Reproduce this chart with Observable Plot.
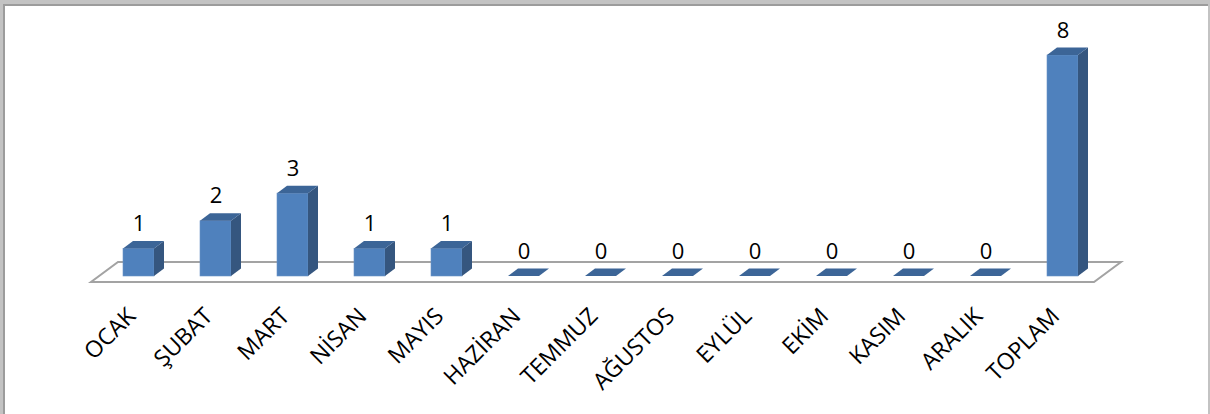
<!DOCTYPE html>
<html>
<head>
<meta charset="utf-8">
<script src="https://cdn.jsdelivr.net/npm/d3@7"></script>
<script src="https://cdn.jsdelivr.net/npm/@observablehq/plot@0.6"></script>
<style>
  html, body { margin: 0; padding: 0; background: #fff; }
  #wrap { position: relative; width: 1210px; height: 414px; overflow: hidden; background: #fff; }
  #wrap svg { display: block; }
  .fr { position: absolute; pointer-events: none; }
</style>
</head>
<body>
<div id="wrap">
  <div id="chart"></div>
  <div class="fr" style="left:0;top:0;width:1210px;height:4px;background:#c3c3c3"></div>
  <div class="fr" style="left:3px;top:4px;width:1207px;height:2px;background:#9c9c9c"></div>
  <div class="fr" style="left:0;top:0;width:3px;height:414px;background:#c3c3c3"></div>
  <div class="fr" style="left:3px;top:4px;width:2px;height:410px;background:#9c9c9c"></div>
  <div class="fr" style="left:1208px;top:0;width:2px;height:414px;background:#c3c3c3"></div>
</div>
<script>
const categories = ["OCAK", "ŞUBAT", "MART", "NİSAN", "MAYIS", "HAZİRAN", "TEMMUZ", "AĞUSTOS", "EYLÜL", "EKİM", "KASIM", "ARALIK", "TOPLAM"];
const values = [1, 2, 3, 1, 1, 0, 0, 0, 0, 0, 0, 0, 8];

const table = categories.map((c, i) => ({category: c, value: values[i]}));

// 3D projection offsets (pixels)
const DX = 10, DY = 7.5;

function poly(pts) {
  return "M" + pts.map(p => p.join(",")).join("L") + "Z";
}

function floorMark(index, scales, values_, dimensions) {
  const {y} = scales;
  const r0 = dimensions.marginLeft, r1 = dimensions.width - dimensions.marginRight;
  const y0 = y(0);
  const g = d3.create("svg:g");
  g.append("path")
    .attr("d", poly([[r0 - 8, y0 + 6], [r1 - 8, y0 + 6], [r1 + 19, y0 - 14], [r0 + 19, y0 - 14]]))
    .attr("fill", "#ffffff")
    .attr("stroke", "#a3a3a3")
    .attr("stroke-width", 2)
    .attr("stroke-linejoin", "miter");
  return g.node();
}

function facesMark(index, scales) {
  const {x, y} = scales;
  const bw = x.bandwidth();
  const g = d3.create("svg:g");
  table.forEach(d => {
    const x0 = x(d.category), x1 = x0 + bw, yt = y(d.value), yb = y(0);
    if (yb - yt > 0.5) {
      g.append("path")
        .attr("d", poly([[x1, yt], [x1 + DX, yt - DY], [x1 + DX, yb - DY], [x1, yb]]))
        .attr("fill", "#35567f");
    }
    g.append("path")
      .attr("d", poly([[x0, yt], [x1, yt], [x1 + DX, yt - DY], [x0 + DX, yt - DY]]))
      .attr("fill", "#3c6597");
  });
  return g.node();
}

const chart = Plot.plot({
  width: 1210,
  height: 414,
  marginLeft: 99,
  marginRight: 108,
  marginTop: 55,
  marginBottom: 138,
  style: {fontFamily: "'Open Sans', Lato, sans-serif", background: "transparent", overflow: "visible"},
  x: {type: "band", domain: categories, paddingInner: 0.597, paddingOuter: 0.311, axis: null},
  y: {domain: [0, 8], axis: null},
  marks: [
    floorMark,
    Plot.barY(table, {x: "category", y: "value", fill: "#4f81bd", stroke: "#6a93c7", strokeWidth: 0.6}),
    facesMark,
    Plot.text(table, {
      x: "category", y: "value", text: d => String(d.value),
      dy: -18, lineAnchor: "bottom", fontSize: 22, fill: "#000"
    }),
    Plot.text(table, {
      x: "category", y: () => 0, text: "category",
      rotate: -45, textAnchor: "end", lineAnchor: "bottom",
      dx: -2, dy: 41, fontSize: 23, fill: "#000"
    })
  ]
});
document.getElementById("chart").appendChild(chart);
</script>
</body>
</html>
